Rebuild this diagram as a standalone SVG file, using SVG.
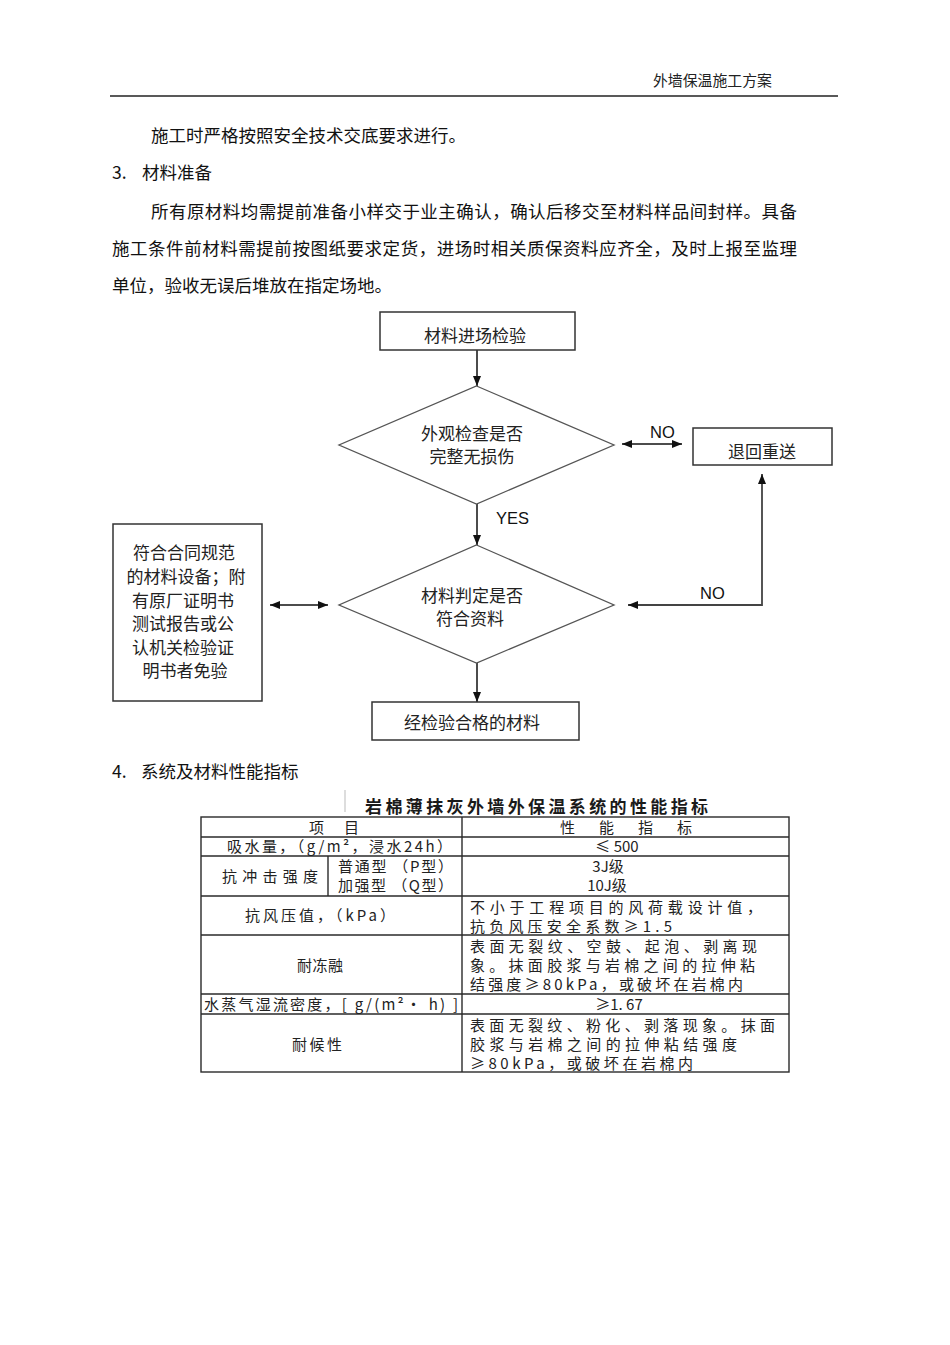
<svg xmlns="http://www.w3.org/2000/svg" width="950" height="1345" viewBox="0 0 950 1345">
<defs>
<style>
.p{font-family:"Noto Sans CJK SC","Liberation Sans",sans-serif;font-size:17.5px;fill:#111;dominant-baseline:central}
.h{font-family:"Noto Sans CJK SC",sans-serif;font-size:15px;fill:#222;dominant-baseline:central}
.f{font-family:"Noto Sans CJK SC",sans-serif;font-size:17px;fill:#222;dominant-baseline:central;text-anchor:middle}
.l{font-family:"Liberation Sans",Arial,sans-serif;font-size:16.5px;fill:#111;dominant-baseline:central}
.box{fill:#fff;stroke:#333;stroke-width:1.5}
.dia{fill:#fff;stroke:#555;stroke-width:1.3}
.ar{fill:none;stroke:#111;stroke-width:1.5}
.tb{fill:none;stroke:#2a2a2a;stroke-width:1.4}
.tt{font-family:"Noto Sans CJK SC",sans-serif;font-size:15px;fill:#222;dominant-baseline:central}
.tc{text-anchor:middle}
.title{font-family:"Noto Sans CJK SC",sans-serif;font-size:17px;font-weight:bold;fill:#1a1a1a;dominant-baseline:central}
</style>
<marker id="ah" markerUnits="userSpaceOnUse" markerWidth="10" markerHeight="8" viewBox="0 0 10 8" refX="10" refY="4" orient="auto-start-reverse">
<path d="M0,0 L10,4 L0,8 z" fill="#111"/>
</marker>
</defs>
<rect width="950" height="1345" fill="#fff"/>

<g id="header">
<text class="h" x="653" y="79" textLength="119" lengthAdjust="spacingAndGlyphs">外墙保温施工方案</text>
<line x1="110" y1="96" x2="838" y2="96" stroke="#222" stroke-width="1.3"/>
</g>

<g id="body-text">
<text class="p" x="151" y="134">施工时严格按照安全技术交底要求进行。</text>
<text class="p" x="112" y="171">3.</text>
<text class="p" x="142" y="171">材料准备</text>
<text class="p" x="151" y="210" textLength="646" lengthAdjust="spacing">所有原材料均需提前准备小样交于业主确认，确认后移交至材料样品间封样。具备</text>
<text class="p" x="112" y="247" textLength="685" lengthAdjust="spacing">施工条件前材料需提前按图纸要求定货，进场时相关质保资料应齐全，及时上报至监理</text>
<text class="p" x="112" y="284">单位，验收无误后堆放在指定场地。</text>
<text class="p" x="112" y="770">4.</text>
<text class="p" x="141" y="770">系统及材料性能指标</text>
</g>

<g id="connectors">
<line class="ar" x1="477" y1="350" x2="477" y2="386" marker-end="url(#ah)"/>
<line class="ar" x1="477" y1="504" x2="477" y2="545" marker-end="url(#ah)"/>
<line class="ar" x1="477" y1="663" x2="477" y2="702" marker-end="url(#ah)"/>
<line class="ar" x1="622" y1="444" x2="682" y2="444" marker-start="url(#ah)" marker-end="url(#ah)"/>
<line class="ar" x1="270" y1="605" x2="328" y2="605" marker-start="url(#ah)" marker-end="url(#ah)"/>
<path d="M628,605 L762,605 L762,474" fill="none" stroke="#444" stroke-width="1.8" marker-start="url(#ah)" marker-end="url(#ah)"/>
<text class="l" x="496" y="518">YES</text>
<text class="l" x="650" y="432">NO</text>
<text class="l" x="700" y="593">NO</text>
</g>

<g id="n-start">
<rect class="box" x="380" y="312" width="195" height="38"/>
<text class="f" x="475" y="334">材料进场检验</text>
</g>

<g id="n-check1">
<polygon class="dia" points="476.5,386 614,445 476.5,504 339,445"/>
<text class="f" x="472" y="432">外观检查是否</text>
<text class="f" x="472" y="455">完整无损伤</text>
</g>

<g id="n-return">
<rect class="box" x="693" y="428" width="139" height="37"/>
<text class="f" x="762" y="450">退回重送</text>
</g>

<g id="n-exempt">
<rect class="box" x="113" y="524" width="149" height="177"/>
<text class="f" x="184" y="551">符合合同规范</text>
<text class="f" x="186" y="575">的材料设备；附</text>
<text class="f" x="183" y="599">有原厂证明书</text>
<text class="f" x="183" y="622">测试报告或公</text>
<text class="f" x="183" y="646">认机关检验证</text>
<text class="f" x="185" y="669">明书者免验</text>
</g>

<g id="n-check2">
<polygon class="dia" points="476.5,545 614,605 476.5,663 339,605"/>
<text class="f" x="472" y="594">材料判定是否</text>
<text class="f" x="470" y="617">符合资料</text>
</g>

<g id="n-pass">
<rect class="box" x="372" y="702" width="207" height="38"/>
<text class="f" x="472" y="721">经检验合格的材料</text>
</g>

<g id="table">
<line x1="345" y1="790" x2="345" y2="812" stroke="#bbb" stroke-width="1"/>
<text class="title" x="365" y="805" textLength="343" lengthAdjust="spacing">岩棉薄抹灰外墙外保温系统的性能指标</text>
<rect class="tb" x="201" y="817" width="588" height="255" stroke-width="1.8"/>
<line class="tb" x1="462" y1="817" x2="462" y2="1072"/>
<line class="tb" x1="328" y1="856" x2="328" y2="896"/>
<line class="tb" x1="201" y1="837" x2="789" y2="837"/>
<line class="tb" x1="201" y1="856" x2="789" y2="856"/>
<line class="tb" x1="201" y1="896" x2="789" y2="896"/>
<line class="tb" x1="201" y1="935" x2="789" y2="935"/>
<line class="tb" x1="201" y1="994" x2="789" y2="994"/>
<line class="tb" x1="201" y1="1014" x2="789" y2="1014"/>

<text class="tt" x="309" y="826" textLength="50" lengthAdjust="spacing">项　目</text>
<text class="tt" x="560" y="826" textLength="132" lengthAdjust="spacing">性　能　指　标</text>

<text class="tt" x="227" y="845" textLength="225" lengthAdjust="spacing">吸水量，（g/m²，浸水24h）</text>
<text class="tt tc" x="617" y="845">≤ 500</text>

<text class="tt" x="222" y="875" textLength="96" lengthAdjust="spacing">抗冲击强度</text>
<text class="tt" x="338" y="865" textLength="115" lengthAdjust="spacing">普通型 （P型）</text>
<text class="tt" x="338" y="884" textLength="115" lengthAdjust="spacing">加强型 （Q型）</text>
<text class="tt tc" x="608" y="865">3J级</text>
<text class="tt tc" x="607" y="884">10J级</text>

<text class="tt" x="245" y="914" textLength="150" lengthAdjust="spacing">抗风压值，（kPa）</text>
<text class="tt" x="470" y="906" textLength="292" lengthAdjust="spacing">不小于工程项目的风荷载设计值，</text>
<text class="tt" x="470" y="925" textLength="202" lengthAdjust="spacing">抗负风压安全系数≥1.5</text>

<text class="tt" x="297" y="964" textLength="46" lengthAdjust="spacing">耐冻融</text>
<text class="tt" x="470" y="945" textLength="287" lengthAdjust="spacing">表面无裂纹、空鼓、起泡、剥离现</text>
<text class="tt" x="470" y="964" textLength="285" lengthAdjust="spacing">象。抹面胶浆与岩棉之间的拉伸粘</text>
<text class="tt" x="470" y="983" textLength="273" lengthAdjust="spacing">结强度≥80kPa，或破坏在岩棉内</text>

<text class="tt" x="204" y="1003" textLength="254" lengthAdjust="spacing">水蒸气湿流密度，[ g/(m²· h) ]</text>
<text class="tt tc" x="619" y="1003">≥1. 67</text>

<text class="tt" x="292" y="1043" textLength="50" lengthAdjust="spacing">耐候性</text>
<text class="tt" x="470" y="1024" textLength="305" lengthAdjust="spacing">表面无裂纹、粉化、剥落现象。抹面</text>
<text class="tt" x="470" y="1043" textLength="267" lengthAdjust="spacing">胶浆与岩棉之间的拉伸粘结强度</text>
<text class="tt" x="470" y="1062" textLength="223" lengthAdjust="spacing">≥80kPa，或破坏在岩棉内</text>
</g>
</svg>
